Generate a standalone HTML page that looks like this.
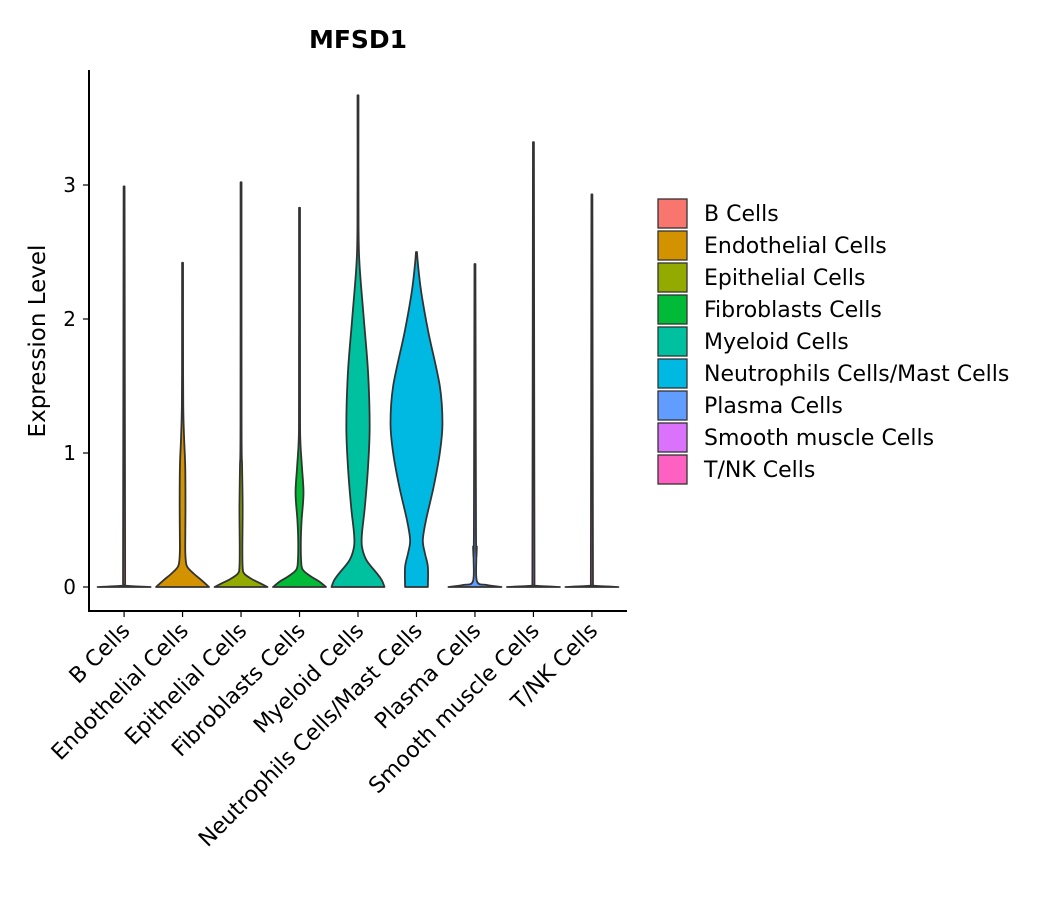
<!DOCTYPE html>
<html><head><meta charset="utf-8"><style>
body{margin:0;background:#fff;font-family:"DejaVu Sans","Liberation Sans",sans-serif}
svg text{font-family:"DejaVu Sans","Liberation Sans",sans-serif}
</style></head><body>
<svg id="chart" width="1057" height="900" xmlns="http://www.w3.org/2000/svg">
<text x="358" y="48" text-anchor="middle" font-size="25" font-weight="bold">MFSD1</text>
<text transform="translate(45,341) rotate(-90)" text-anchor="middle" font-size="23">Expression Level</text>
<g id="plot"></g>
<g id="legend"></g>
</svg>
<script>
const categories=["B Cells","Endothelial Cells","Epithelial Cells","Fibroblasts Cells","Myeloid Cells","Neutrophils Cells/Mast Cells","Plasma Cells","Smooth muscle Cells","T/NK Cells"];
const colors=["#F8766D","#D39200","#93AA00","#00BA38","#00C19F","#00B9E3","#619CFF","#DB72FB","#FF61C3"];
const maxValues=[2.99,2.42,3.02,2.83,3.67,2.5,2.41,3.32,2.93];
// density profiles: levels (expression) and relative half-widths (0..1)
const densityLevels=[
 [0,0.01,0.03],
 [0,0.05,0.1,0.15,0.2,0.3,0.6,0.9,1.1,1.3,1.6],
 [0,0.03,0.06,0.1,0.15,0.3,0.6,0.9,1.2],
 [0,0.04,0.08,0.13,0.2,0.35,0.5,0.7,0.9,1.1,1.4],
 [0,0.05,0.1,0.2,0.3,0.4,0.6,0.9,1.2,1.6,2.0,2.4,2.7],
 [0,0.15,0.25,0.35,0.5,0.75,1.0,1.22,1.5,1.9,2.2,2.4],
 [0,0.015,0.04,0.2,0.3,0.4],
 [0,0.01,0.02],
 [0,0.01,0.02]
];
const densityWidths=[
 [1,0.06,0.04],
 [1,0.72,0.42,0.18,0.12,0.1,0.11,0.1,0.06,0.03,0.02],
 [1,0.7,0.4,0.12,0.06,0.05,0.06,0.04,0.02],
 [1,0.75,0.42,0.12,0.06,0.05,0.08,0.15,0.09,0.03,0.02],
 [1,0.9,0.72,0.32,0.15,0.15,0.26,0.38,0.44,0.38,0.22,0.06,0.02],
 [0.43,0.43,0.32,0.24,0.36,0.65,0.88,0.98,0.88,0.45,0.18,0.06],
 [1,0.45,0.08,0.05,0.07,0.04],
 [1,0.06,0.04],
 [1,0.06,0.04]
];
const yTicks=[0,1,2,3];
const NS="http://www.w3.org/2000/svg";
const plot=document.getElementById('plot'),legend=document.getElementById('legend');
const x0=89,x1=627,yBase=587,pxPerUnit=134,step=(x1-x0)/(categories.length+0.2),maxHalf=26.5;
const xScale=i=>x0+step*(i+0.6);
const yScale=v=>yBase-pxPerUnit*v;
function mk(tag,attrs,parent){const e=document.createElementNS(NS,tag);for(const k in attrs)e.setAttribute(k,attrs[k]);parent.appendChild(e);return e;}
function curve(pts){let d="M"+pts[0][0]+","+pts[0][1];for(let i=0;i<pts.length-1;i++){const p0=pts[Math.max(i-1,0)],p1=pts[i],p2=pts[i+1],p3=pts[Math.min(i+2,pts.length-1)];let c1=[p1[0]+(p2[0]-p0[0])/6,p1[1]+(p2[1]-p0[1])/6],c2=[p2[0]-(p3[0]-p1[0])/6,p2[1]-(p3[1]-p1[1])/6];c1[1]=Math.min(c1[1],yBase);c2[1]=Math.min(c2[1],yBase);d+=" C"+c1[0].toFixed(2)+","+c1[1].toFixed(2)+" "+c2[0].toFixed(2)+","+c2[1].toFixed(2)+" "+p2[0].toFixed(2)+","+p2[1].toFixed(2);}return d;}
categories.forEach((c,i)=>{
 const cx=xScale(i),lv=densityLevels[i].concat([maxValues[i]]),wd=densityWidths[i].concat([0.018]);
 const right=lv.map((v,k)=>[cx+wd[k]*maxHalf,yScale(v)]);
 const left=lv.map((v,k)=>[cx-wd[k]*maxHalf,yScale(v)]).reverse();
 const lc=curve(left);
 let d=curve(right)+" L"+left[0][0]+","+left[0][1]+lc.slice(lc.indexOf(" "))+" Z";
 const p=mk('path',{d:d,fill:colors[i],stroke:'#333','stroke-width':1.8,'stroke-linejoin':'round'},plot);
 
 
 mk('line',{x1:cx,x2:cx,y1:611,y2:617,stroke:'#000','stroke-width':1.2},plot);
 const t=mk('text',{transform:`translate(${cx+7},${632}) rotate(-45)`,'text-anchor':'end','font-size':22},plot);
 t.textContent=c;
 
 
 const ly=199+i*32;
 const r=mk('rect',{x:658,y:ly,width:29,height:29,fill:colors[i],stroke:'#333','stroke-width':1.3},legend);
 
 
 const lt=mk('text',{x:704,y:ly+22,'font-size':22},legend);
 lt.textContent=c;
 
 
});
yTicks.forEach(v=>{
 mk('line',{x1:83,x2:89,y1:yScale(v),y2:yScale(v),stroke:'#000','stroke-width':1.2},plot);
 const t=mk('text',{x:76,y:yScale(v)+7,'text-anchor':'end','font-size':20},plot);
 t.textContent=v;
 
 
});
const ya=mk('line',{x1:89,x2:89,y1:70,y2:612,stroke:'#000','stroke-width':2},plot);


const xa=mk('line',{x1:88,x2:627,y1:611,y2:611,stroke:'#000','stroke-width':2},plot);


</script>
</body></html>
